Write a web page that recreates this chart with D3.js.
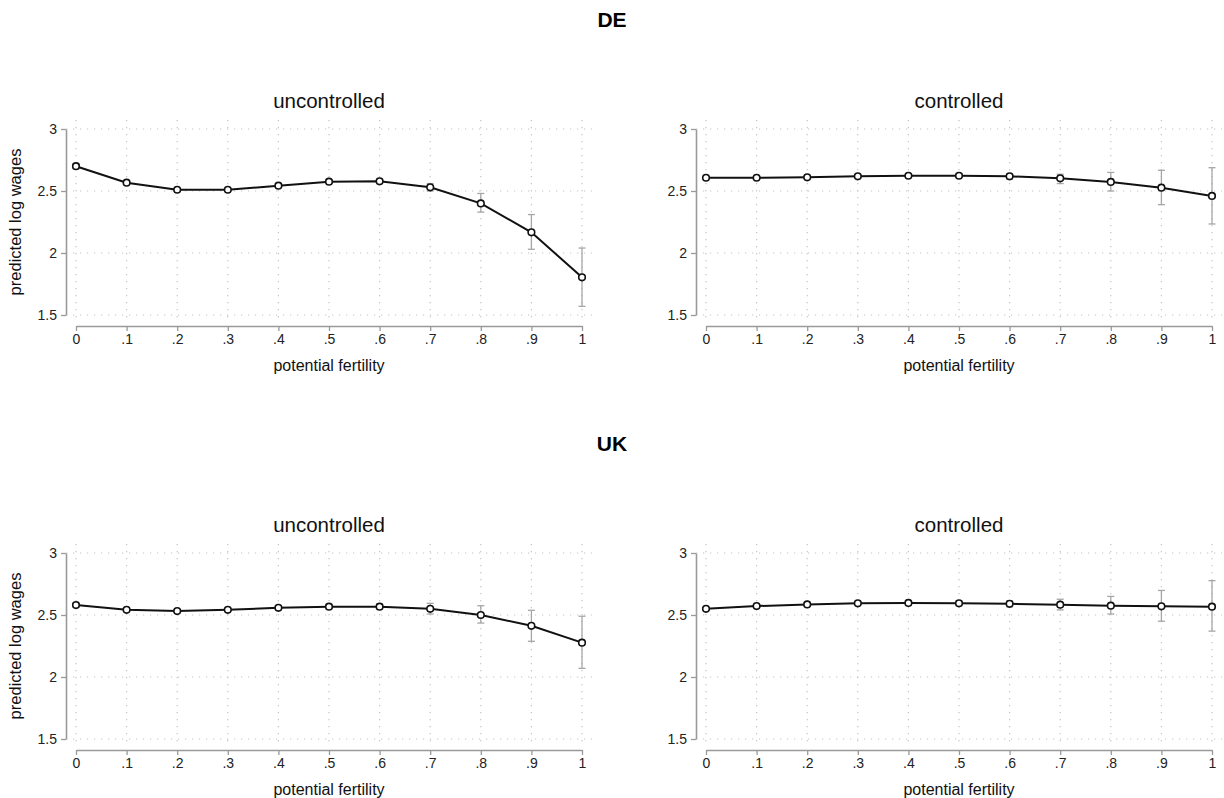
<!DOCTYPE html>
<html>
<head>
<meta charset="utf-8">
<script src="https://cdn.jsdelivr.net/npm/d3@7"></script>
<style>
  body { margin: 0; background: #fff; }
  svg { font-family: "Liberation Sans", Arial, sans-serif; }
</style>
</head>
<body>
<div id="chart"></div>
<script>
// x values
var fertility = [0, .1, .2, .3, .4, .5, .6, .7, .8, .9, 1];
var yTicks = [1.5, 2, 2.5, 3];

// DE
var deUncontrolled   = [2.70, 2.567, 2.51, 2.51, 2.543, 2.575, 2.578, 2.53, 2.40, 2.167, 1.804];
var deUncontrolledLo = [2.68, 2.55, 2.50, 2.50, 2.53, 2.56, 2.56, 2.50, 2.33, 2.03, 1.57];
var deUncontrolledHi = [2.72, 2.58, 2.52, 2.52, 2.56, 2.59, 2.60, 2.56, 2.48, 2.31, 2.04];
var deControlled     = [2.607, 2.607, 2.61, 2.618, 2.623, 2.623, 2.618, 2.602, 2.573, 2.527, 2.46];
var deControlledLo   = [2.60, 2.60, 2.60, 2.605, 2.61, 2.61, 2.595, 2.56, 2.50, 2.39, 2.234];
var deControlledHi   = [2.615, 2.615, 2.62, 2.63, 2.635, 2.64, 2.64, 2.635, 2.65, 2.667, 2.688];

// UK
var ukUncontrolled   = [2.58, 2.542, 2.532, 2.542, 2.558, 2.567, 2.567, 2.55, 2.50, 2.413, 2.277];
var ukUncontrolledLo = [2.565, 2.53, 2.52, 2.53, 2.54, 2.55, 2.545, 2.508, 2.435, 2.288, 2.07];
var ukUncontrolledHi = [2.595, 2.555, 2.545, 2.555, 2.575, 2.585, 2.59, 2.594, 2.575, 2.538, 2.49];
var ukControlled     = [2.55, 2.572, 2.585, 2.594, 2.597, 2.594, 2.59, 2.583, 2.575, 2.57, 2.567];
var ukControlledLo   = [2.54, 2.56, 2.57, 2.58, 2.58, 2.575, 2.565, 2.541, 2.508, 2.45, 2.37];
var ukControlledHi   = [2.56, 2.585, 2.60, 2.61, 2.615, 2.615, 2.615, 2.627, 2.65, 2.698, 2.777];

var width = 1224, height = 798;

var svg = d3.select("#chart")
  .append("svg")
    .attr("width", width)
    .attr("height", height);

// row = country block, col = uncontrolled / controlled
var rows = [
  {name: "DE", top: 129, series: [[deUncontrolled, deUncontrolledLo, deUncontrolledHi], [deControlled, deControlledLo, deControlledHi]]},
  {name: "UK", top: 553, series: [[ukUncontrolled, ukUncontrolledLo, ukUncontrolledHi], [ukControlled, ukControlledLo, ukControlledHi]]}
];
var cols = [
  {title: "uncontrolled", left: 76, gridRight: 592},
  {title: "controlled", left: 706, gridRight: 1222}
];
var plotW = 506, plotH = 186;

var fmtX = function (d) { return d === 0 ? "0" : d === 1 ? "1" : String(d).replace("0.", "."); };

rows.forEach(function (row) {
  svg.append("text")
    .attr("x", 612)
    .attr("y", row.top - 102)
    .attr("text-anchor", "middle")
    .style("font-size", "21px")
    .style("font-weight", "bold")
    .text(row.name);

  cols.forEach(function (col, ci) {
    var x = d3.scaleLinear().domain([0, 1]).range([col.left, col.left + plotW]);
    var y = d3.scaleLinear().domain([1.5, 3]).range([row.top + plotH, row.top]);
    var g = svg.append("g");
    var s = row.series[ci];
    var axisX = col.left - 10;

    // grid
    g.selectAll(".hgrid").data(yTicks).enter()
      .append("line")
        .attr("x1", axisX).attr("x2", col.gridRight)
        .attr("y1", function (d) { return y(d); })
        .attr("y2", function (d) { return y(d); })
        .attr("stroke", "#c4c4c4")
        .attr("stroke-width", 1.2)
        .attr("stroke-dasharray", "1.2,5.8");
    g.selectAll(".vgrid").data(fertility).enter()
      .append("line")
        .attr("x1", function (d) { return x(d); })
        .attr("x2", function (d) { return x(d); })
        .attr("y1", row.top - 9).attr("y2", row.top + plotH + 6)
        .attr("stroke", "#c4c4c4")
        .attr("stroke-width", 1.2)
        .attr("stroke-dasharray", "1.2,5.8");

    // axes
    var ya = g.append("g")
      .attr("transform", "translate(" + axisX + ",0)")
      .call(d3.axisLeft(y).tickValues(yTicks).tickSize(5).tickSizeOuter(0).tickPadding(4).tickFormat(function (d) { return d; }));
    var xa = g.append("g")
      .attr("transform", "translate(0," + (row.top + plotH + 11) + ")")
      .call(d3.axisBottom(x).tickValues(fertility).tickSize(5).tickSizeOuter(0).tickPadding(3).tickFormat(fmtX));
    [ya, xa].forEach(function (a) {
      a.select(".domain").attr("stroke", "#9a9a9a").attr("stroke-width", 1.6);
      a.selectAll(".tick line").attr("stroke", "#9a9a9a").attr("stroke-width", 1.3);
      a.selectAll(".tick text").attr("fill", "#222").style("font-size", "14px").style("font-family", "'Liberation Sans', Arial, sans-serif");
    });

    // error bars
    var eb = g.selectAll(".eb").data(fertility).enter().append("g");
    eb.append("line")
      .attr("x1", function (d) { return x(d); })
      .attr("x2", function (d) { return x(d); })
      .attr("y1", function (d, i) { return y(s[1][i]); })
      .attr("y2", function (d, i) { return y(s[2][i]); });
    eb.append("line")
      .attr("x1", function (d) { return x(d) - 3.5; })
      .attr("x2", function (d) { return x(d) + 3.5; })
      .attr("y1", function (d, i) { return y(s[1][i]); })
      .attr("y2", function (d, i) { return y(s[1][i]); });
    eb.append("line")
      .attr("x1", function (d) { return x(d) - 3.5; })
      .attr("x2", function (d) { return x(d) + 3.5; })
      .attr("y1", function (d, i) { return y(s[2][i]); })
      .attr("y2", function (d, i) { return y(s[2][i]); });
    eb.selectAll("line").attr("stroke", "#a6a6a6").attr("stroke-width", 1.3);

    // line + markers
    var line = d3.line()
      .x(function (d) { return x(d); })
      .y(function (d, i) { return y(s[0][i]); });
    g.append("path")
      .datum(fertility)
      .attr("d", line)
      .attr("fill", "none")
      .attr("stroke", "#111")
      .attr("stroke-width", 2);
    g.selectAll(".pt").data(fertility).enter()
      .append("circle")
        .attr("cx", function (d) { return x(d); })
        .attr("cy", function (d, i) { return y(s[0][i]); })
        .attr("r", 3.3)
        .attr("fill", "#fff")
        .attr("stroke", "#111")
        .attr("stroke-width", 1.6);

    // titles
    var cx = col.left + plotW / 2;
    g.append("text")
      .attr("x", cx).attr("y", row.top - 21)
      .attr("text-anchor", "middle")
      .style("font-size", "20.5px")
      .attr("fill", "#111")
      .text(col.title);
    g.append("text")
      .attr("x", cx).attr("y", row.top + plotH + 56)
      .attr("text-anchor", "middle")
      .style("font-size", "16px")
      .attr("fill", "#111")
      .text("potential fertility");
    if (ci === 0) {
      g.append("text")
        .attr("transform", "translate(21," + (row.top + plotH / 2) + ") rotate(-90)")
        .attr("text-anchor", "middle")
        .style("font-size", "16.5px")
        .attr("fill", "#111")
        .text("predicted log wages");
    }
  });
});
</script>
</body>
</html>
